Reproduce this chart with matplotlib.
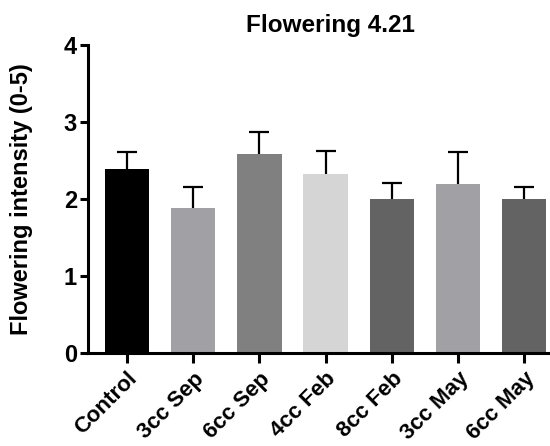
import matplotlib
matplotlib.use('Agg')
import matplotlib.pyplot as plt
import numpy as np

# Values
groups = ['Control', '3cc Sep', '6cc Sep', '4cc Feb', '8cc Feb', '3cc May', '6cc May']
means = [2.39, 1.88, 2.59, 2.33, 2.0, 2.19, 2.0]
sem = [0.22, 0.28, 0.28, 0.30, 0.21, 0.42, 0.15]
bar_colors = ['#000000', '#a1a1a5', '#808080', '#d5d5d5', '#636363', '#a1a1a5', '#636363']

plt.rcParams['font.family'] = ['Liberation Sans', 'DejaVu Sans']
plt.rcParams['font.weight'] = 'bold'

fig = plt.figure(figsize=(5.5, 4.46), dpi=100)
ax = fig.add_axes([0.16, 0.2085, 0.845, 0.6905])

x = np.arange(len(groups))
# symmetric error bars drawn behind the bars, so only the upper half shows
ax.errorbar(x, means, yerr=sem, fmt='none',
            ecolor='black', elinewidth=1.6, capsize=7, capthick=1.6, zorder=1)
ax.bar(x, means, width=0.67, color=bar_colors, zorder=2)

ax.set_xlim(-0.59, 6.43)
ax.set_ylim(0, 4)
ax.set_yticks([0, 1, 2, 3, 4])
ax.set_xticks(x)
ax.set_xticklabels(groups, rotation=45, ha='right', rotation_mode='anchor',
                   fontsize=16, fontweight='bold')
ax.tick_params(axis='y', labelsize=17, width=2.2, length=6, pad=2)
ax.tick_params(axis='x', width=2.2, length=7, pad=4)
for lab in ax.get_yticklabels():
    lab.set_fontweight('bold')

for s in ['top', 'right']:
    ax.spines[s].set_visible(False)
for s in ['left', 'bottom']:
    ax.spines[s].set_linewidth(2.2)

ax.set_ylabel('Flowering intensity (0-5)', fontsize=17, fontweight='bold', labelpad=22)
fig.text(0.6, 0.943, 'Flowering 4.21', ha='center', va='center', fontsize=17.5, fontweight='bold')

fig.savefig('out.png', dpi=100)
